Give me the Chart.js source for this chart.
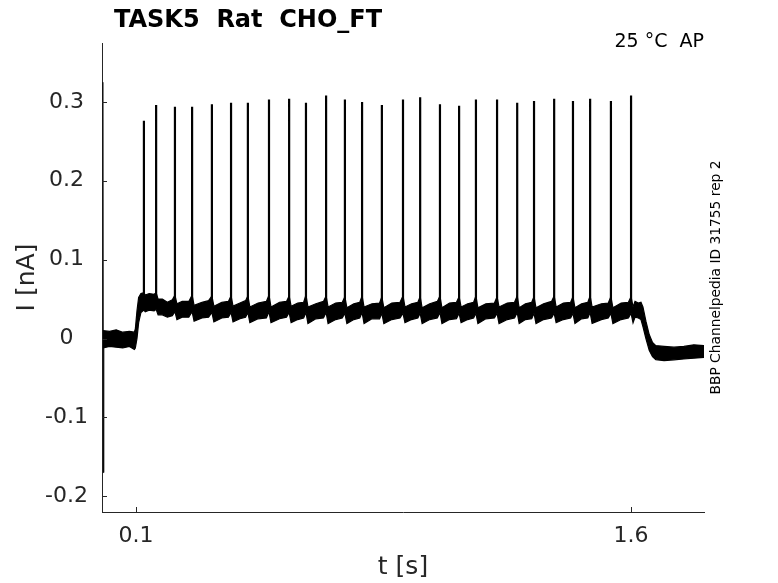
<!DOCTYPE html>
<html><head><meta charset="utf-8">
<script src="https://cdn.jsdelivr.net/npm/chart.js@4/dist/chart.umd.min.js"></script>
<style>html,body{margin:0;padding:0;background:#fff}canvas{display:block}</style>
</head><body>
<canvas id="c" width="778" height="583"></canvas>
<script>
// ---- data ----
const titleText = 'TASK5  Rat  CHO_FT';
const cornerText = '25 °C  AP';
const sideText = 'BBP Channelpedia ID 31755 rep 2';
const xTicks = [0.1, 1.6];
const yTicks = [-0.2, -0.1, 0, 0.1, 0.2, 0.3];

// action potential spikes (time in s, peak current in nA)
const spikeTimes = [0.124,0.161,0.218,0.270,0.330,0.388,0.439,0.503,0.564,0.615,0.676,0.733,0.785,0.845,
                    0.909,0.961,1.021,1.079,1.130,1.194,1.255,1.306,1.367,1.424,1.476,1.539,1.600];
const spikePeaks = [0.276,0.296,0.294,0.294,0.297,0.299,0.299,0.303,0.304,0.299,0.308,0.303,0.300,0.296,
                    0.303,0.306,0.297,0.295,0.303,0.303,0.299,0.301,0.304,0.301,0.304,0.301,0.308];
const spikeBase = 0.045;

// stimulus-onset artifact at t = 0
const artifactT = [0.000, 0.0012, 0.0025];
const artifactI = [0.325, -0.170, 0.000];

// noisy trace: upper and lower edge of the noise band
const envT = [
  0.000,0.020,0.040,0.060,0.080,0.095,0.098,0.103,0.108,0.115,
  0.124,0.128,0.140,0.155,
  0.161,0.167,0.180,0.195,0.210,
  0.218,0.224,0.240,0.260,
  0.270,0.276,0.300,0.320,
  0.330,0.336,0.360,0.380,
  0.388,0.394,0.415,0.432,
  0.439,0.445,0.470,0.495,
  0.503,0.509,0.535,0.556,
  0.564,0.570,0.590,0.608,
  0.615,0.621,0.645,0.668,
  0.676,0.682,0.705,0.725,
  0.733,0.739,0.760,0.778,
  0.785,0.791,0.815,0.838,
  0.845,0.851,0.875,0.900,
  0.909,0.915,0.935,0.954,
  0.961,0.967,0.990,1.013,
  1.021,1.027,1.050,1.071,
  1.079,1.085,1.105,1.123,
  1.130,1.136,1.160,1.186,
  1.194,1.200,1.225,1.247,
  1.255,1.261,1.280,1.299,
  1.306,1.312,1.335,1.359,
  1.367,1.373,1.395,1.417,
  1.424,1.430,1.450,1.469,
  1.476,1.482,1.510,1.531,
  1.539,1.545,1.570,1.592,
  1.600,1.606,1.612,1.622,1.630,1.636,1.645,1.655,1.665,1.675,1.700,1.730,1.760,1.790,1.821
];
const envHi = [
  0.010,0.009,0.011,0.008,0.009,0.008,0.012,0.035,0.052,0.057,
  0.058,0.055,0.057,0.056,
  0.058,0.050,0.050,0.046,0.049,
  0.055,0.044,0.047,0.047,
  0.055,0.042,0.046,0.048,
  0.054,0.041,0.046,0.047,
  0.054,0.041,0.045,0.048,
  0.054,0.040,0.045,0.047,
  0.055,0.040,0.046,0.047,
  0.054,0.041,0.045,0.046,
  0.055,0.040,0.044,0.047,
  0.054,0.040,0.045,0.046,
  0.053,0.039,0.044,0.046,
  0.054,0.040,0.044,0.045,
  0.053,0.039,0.045,0.046,
  0.054,0.040,0.044,0.046,
  0.053,0.039,0.044,0.047,
  0.054,0.039,0.045,0.046,
  0.053,0.040,0.044,0.046,
  0.054,0.039,0.044,0.045,
  0.053,0.040,0.045,0.046,
  0.054,0.039,0.044,0.046,
  0.053,0.039,0.044,0.047,
  0.054,0.040,0.045,0.046,
  0.053,0.039,0.044,0.046,
  0.054,0.040,0.044,0.045,
  0.053,0.039,0.045,0.046,
  0.053,0.040,0.047,0.045,0.046,0.040,0.022,0.005,-0.005,-0.009,-0.010,-0.011,-0.010,-0.008,-0.009
];
const envLo = [
  -0.012,-0.010,-0.011,-0.012,-0.010,-0.014,-0.012,0.000,0.020,0.033,
  0.036,0.034,0.036,0.035,
  0.037,0.030,0.030,0.027,0.029,
  0.034,0.024,0.027,0.027,
  0.034,0.022,0.026,0.027,
  0.033,0.021,0.026,0.027,
  0.033,0.021,0.025,0.027,
  0.033,0.020,0.025,0.026,
  0.034,0.020,0.025,0.027,
  0.033,0.020,0.024,0.026,
  0.033,0.019,0.025,0.026,
  0.033,0.019,0.024,0.026,
  0.032,0.019,0.024,0.026,
  0.033,0.019,0.025,0.025,
  0.032,0.019,0.024,0.026,
  0.032,0.020,0.024,0.026,
  0.032,0.019,0.024,0.026,
  0.033,0.019,0.024,0.025,
  0.032,0.020,0.024,0.026,
  0.032,0.019,0.025,0.026,
  0.032,0.019,0.024,0.026,
  0.033,0.019,0.024,0.025,
  0.032,0.019,0.024,0.026,
  0.032,0.020,0.024,0.026,
  0.032,0.019,0.025,0.026,
  0.033,0.019,0.024,0.026,
  0.032,0.019,0.024,0.026,
  0.032,0.020,0.027,0.026,0.024,0.015,0.000,-0.015,-0.023,-0.027,-0.028,-0.027,-0.026,-0.025,-0.024
];

// ---- build chart data from the arrays ----
const toPts = (xs, ys) => xs.map((x, i) => ({x: x, y: ys[i]}));
const spikePts = [];
spikeTimes.forEach((t, i) => {
  spikePts.push({x: t, y: spikeBase});
  spikePts.push({x: t, y: spikePeaks[i]});
  spikePts.push({x: t, y: null});
});

const AXIS = '#262626';
Chart.defaults.font.family = "'DejaVu Sans', sans-serif";
Chart.defaults.color = AXIS;

const inwardTicks = {
  id: 'inwardTicks',
  afterDraw(chart) {
    const {ctx, chartArea: a, scales} = chart;
    ctx.save();
    ctx.strokeStyle = AXIS;
    ctx.lineWidth = 1;
    ctx.beginPath();
    scales.y.ticks.forEach(t => {
      const y = Math.round(scales.y.getPixelForValue(t.value)) + 0.5;
      ctx.moveTo(a.left, y); ctx.lineTo(a.left + 5, y);
    });
    scales.x.ticks.forEach(t => {
      const x = Math.round(scales.x.getPixelForValue(t.value)) + 0.5;
      ctx.moveTo(x, a.bottom); ctx.lineTo(x, a.bottom - 5);
    });
    ctx.stroke();
    ctx.restore();
  }
};

const annotations = {
  id: 'annotations',
  afterDraw(chart) {
    const ctx = chart.ctx;
    ctx.save();
    ctx.fillStyle = '#000';
    ctx.font = "bold 24px 'DejaVu Sans'";
    ctx.textAlign = 'left';
    ctx.textBaseline = 'alphabetic';
    ctx.fillText(titleText, 114, 27);
    ctx.font = "19px 'DejaVu Sans'";
    ctx.textAlign = 'right';
    ctx.fillText(cornerText, 704, 47);
    ctx.font = "13.8px 'DejaVu Sans'";
    ctx.textAlign = 'center';
    ctx.translate(720, 277.5);
    ctx.rotate(-Math.PI / 2);
    ctx.fillText(sideText, 0, 0);
    ctx.restore();
  }
};

new Chart(document.getElementById('c'), {
  type: 'scatter',
  data: {
    datasets: [
      {label: 'spikes', data: spikePts, showLine: true, spanGaps: false, borderColor: '#000',
       borderWidth: 2.2, pointRadius: 0, fill: false},
      {label: 'artifact', data: toPts(artifactT, artifactI), showLine: true, borderColor: '#000',
       borderWidth: 1, pointRadius: 0, fill: false},
      {label: 'lower', data: toPts(envT, envLo), showLine: true, borderColor: '#000',
       borderWidth: 1.2, pointRadius: 0, fill: false},
      {label: 'upper', data: toPts(envT, envHi), showLine: true, borderColor: '#000',
       borderWidth: 1.2, pointRadius: 0, fill: '-1', backgroundColor: '#000'}
    ]
  },
  options: {
    responsive: false,
    devicePixelRatio: 1,
    animation: false,
    layout: {padding: {top: 43, right: 74, left: 0, bottom: 0}},
    plugins: {legend: {display: false}, tooltip: {enabled: false}, title: {display: false}},
    elements: {line: {tension: 0}},
    scales: {
      x: {
        type: 'linear', min: -0.003, max: 1.821,
        afterBuildTicks: s => { s.ticks = xTicks.map(v => ({value: v})); },
        afterFit: s => { s.height = 71; },
        grid: {display: false, drawTicks: false},
        border: {display: true, color: AXIS, width: 1},
        ticks: {font: {size: 22}, color: AXIS, padding: 11, maxRotation: 0,
                callback: v => String(v)},
        title: {display: true, text: 't [s]', font: {size: 25}, color: AXIS, padding: {top: 0, bottom: 1}}
      },
      y: {
        type: 'linear', min: -0.22, max: 0.3747,
        afterBuildTicks: s => { s.ticks = yTicks.map(v => ({value: v})); },
        afterFit: s => { s.width = 102; },
        grid: {display: false, drawTicks: false},
        border: {display: true, color: AXIS, width: 1},
        ticks: {font: {size: 22}, color: AXIS, padding: 14, crossAlign: 'center',
                callback: v => (v === 0 ? '0' : String(v))},
        title: {display: true, text: 'I [nA]', font: {size: 25}, color: AXIS, padding: {top: 12, bottom: 0}}
      }
    }
  },
  plugins: [inwardTicks, annotations]
});
</script>
</body></html>
